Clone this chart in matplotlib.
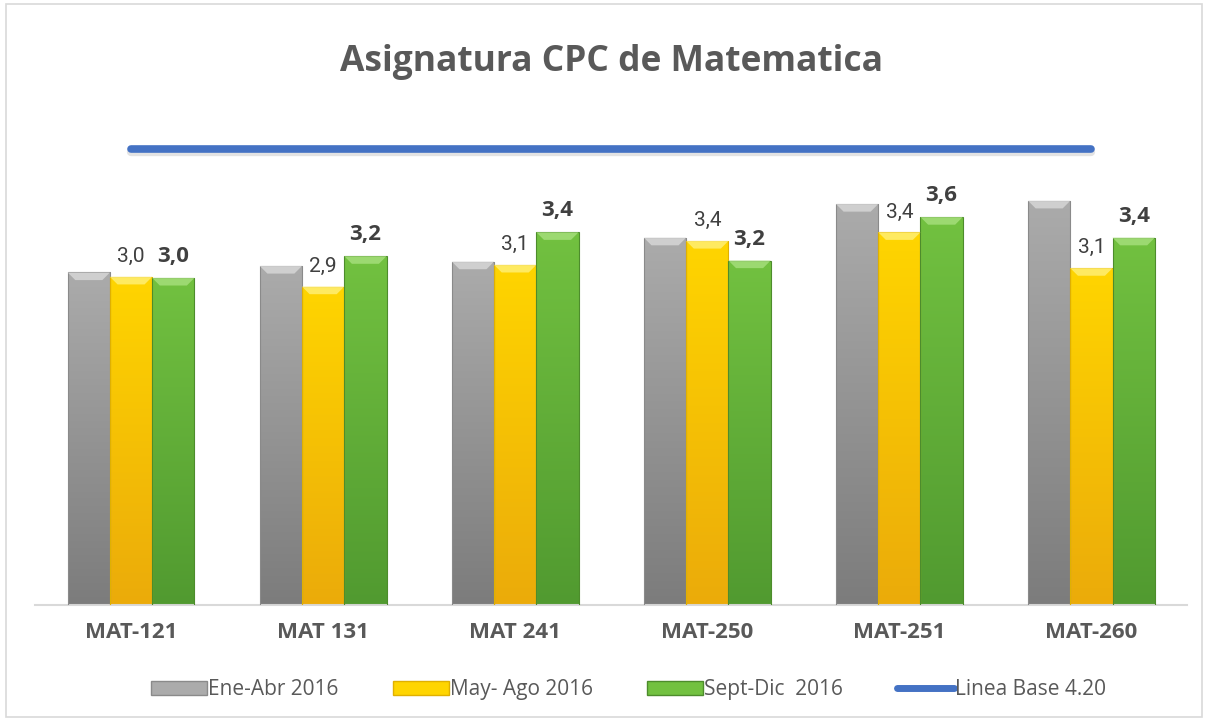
import numpy as np
import matplotlib.pyplot as plt
from matplotlib.patches import Patch, Rectangle, Polygon
from matplotlib.lines import Line2D
from matplotlib.colors import LinearSegmentedColormap

plt.rcParams['font.family'] = ['Open Sans', 'DejaVu Sans']

# data
categories = ['MAT-121', 'MAT 131', 'MAT 241', 'MAT-250', 'MAT-251', 'MAT-260']
ene_abr = [3.06, 3.12, 3.16, 3.38, 3.69, 3.72]
may_ago = [3.02, 2.93, 3.13, 3.35, 3.43, 3.10]
sept_dic = [3.01, 3.21, 3.43, 3.17, 3.57, 3.38]
linea_base = 4.20
series_names = ['Ene-Abr 2016', 'May- Ago 2016', 'Sept-Dic  2016', 'Linea Base 4.20']

# colours: (top, bottom, bevel, edge)
c_gray = ('#ababab', '#7c7c7c', '#d9d9d9', '#8a8a8a')
c_yellow = ('#ffd500', '#ebab0a', '#fff07a', '#e0b000')
c_green = ('#72c140', '#519a30', '#a8e07e', '#4d8c2c')
c_line = '#4472c4'
c_text = '#595959'

fig = plt.figure(figsize=(12.08, 7.21), dpi=100)
ax = fig.add_axes([0.029, 0.161, 0.954, 0.663])

x = np.arange(len(categories))
w = 0.22


def fancy_bars(ax, xs, vals, col):
    top, bot, bev, edge = col
    cmap = LinearSegmentedColormap.from_list('g', [bot, top])
    grad = np.linspace(0, 1, 256).reshape(-1, 1)
    for xc, v in zip(xs, vals):
        x0 = xc - w / 2
        rect = Rectangle((x0, 0), w, v, facecolor='none', edgecolor=edge, lw=0.8, zorder=3)
        ax.add_patch(rect)
        im = ax.imshow(grad, extent=(x0, x0 + w, 0, v), origin='lower', cmap=cmap,
                       aspect='auto', zorder=2)
        im.set_clip_path(rect)
        # bevel at the top
        b = 0.07
        dx = w * 0.18
        ax.add_patch(Polygon([(x0, v), (x0 + w, v), (x0 + w - dx, v - b), (x0 + dx, v - b)],
                             closed=True, facecolor=bev, edgecolor='none', alpha=0.8, zorder=4))


fancy_bars(ax, x - w, ene_abr, c_gray)
fancy_bars(ax, x, may_ago, c_yellow)
fancy_bars(ax, x + w, sept_dic, c_green)

# base line (with a soft shadow)
ax.plot([x[0], x[-1]], [linea_base - 0.03, linea_base - 0.03], color='#bbbbbb', lw=6,
        alpha=0.4, solid_capstyle='round', zorder=1)
ax.plot([x[0], x[-1]], [linea_base, linea_base], color=c_line, lw=5.5,
        solid_capstyle='round', zorder=5)

# labels
for xc, v in zip(x, may_ago):
    ax.text(xc, v + 0.1, f'{v:.1f}'.replace('.', ','), ha='center', va='bottom',
            fontsize=15, color='#404040', family=['Roboto', 'DejaVu Sans'])
for xc, v in zip(x, sept_dic):
    ax.text(xc + w, v + 0.1, f'{v:.1f}'.replace('.', ','), ha='center', va='bottom',
            fontsize=16, fontweight='bold', color='#404040')

ax.set_xlim(-0.5, len(categories) - 0.5)
ax.set_ylim(0, 4.4)
ax.set_xticks(x)
ax.set_xticklabels(categories, fontsize=16, fontweight='bold', color=c_text)
ax.tick_params(axis='x', length=0, pad=12)
ax.set_yticks([])
for s in ['left', 'top', 'right']:
    ax.spines[s].set_visible(False)
ax.spines['bottom'].set_color('#d9d9d9')
ax.spines['bottom'].set_linewidth(1.5)

fig.text(0.506, 0.914, 'Asignatura CPC de Matematica', ha='center', va='center',
         fontsize=25.5, fontweight='bold', color=c_text)

handles = [Patch(facecolor=c_gray[0], edgecolor=c_gray[3]),
           Patch(facecolor=c_yellow[0], edgecolor=c_yellow[3]),
           Patch(facecolor=c_green[0], edgecolor=c_green[3]),
           Line2D([0], [0], color=c_line, lw=5, solid_capstyle='round')]
leg = fig.legend(handles, series_names, loc='center', bbox_to_anchor=(0.52, 0.043), ncol=4,
                 frameon=False, fontsize=15, handlelength=2.7, handleheight=0.62,
                 handletextpad=0.05, columnspacing=2.6)
for t in leg.get_texts():
    t.set_color(c_text)

# outer frame
fig.patches.append(Rectangle((0.005, 0.005), 0.99, 0.99, transform=fig.transFigure,
                             fill=False, edgecolor='#d9d9d9', lw=1.2))

fig.savefig('out.png', dpi=100)
